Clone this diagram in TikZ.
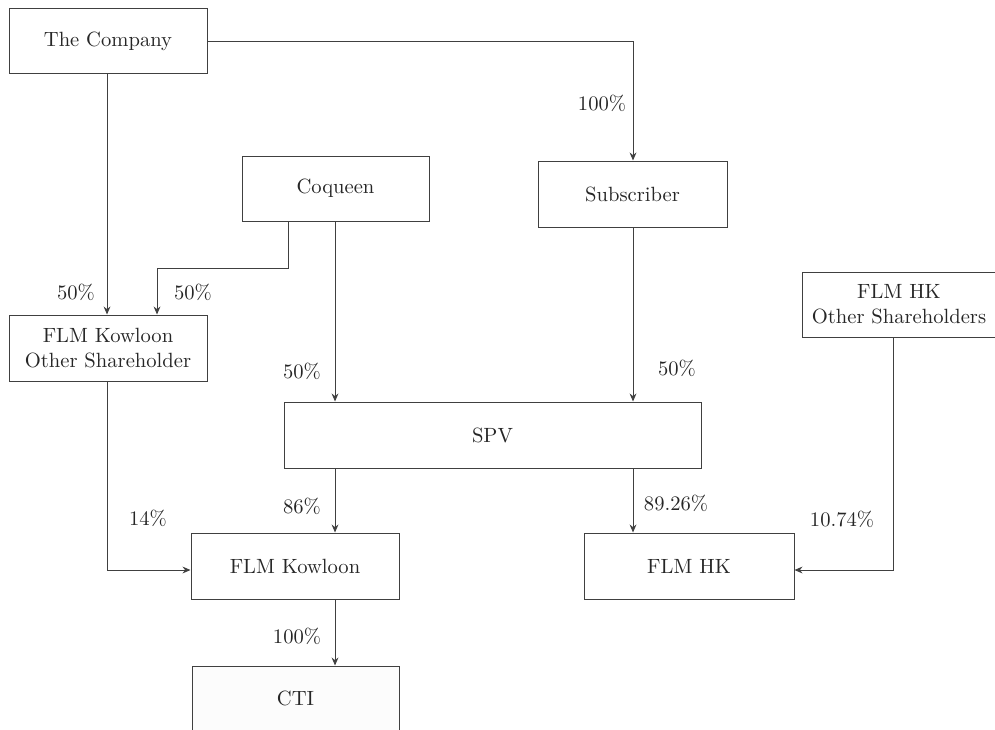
\documentclass[tikz,border=0pt]{standalone}
\usetikzlibrary{arrows.meta}
\begin{document}
\begin{tikzpicture}[x=0.5pt,y=-0.5pt,
  box/.style={draw=black!75, line width=0.5pt, rectangle, inner sep=0pt, align=center, text=black!85, font=\fontsize{10.3}{12.5}\selectfont},
  arr/.style={draw=black!75, line width=0.5pt, -{Stealth[length=4pt,width=3.4pt]}},
  lbl/.style={text=black!85, font=\fontsize{10.3}{12.5}\selectfont, inner sep=0pt}]
\useasboundingbox (0,0) rectangle (995,729);
\node[box, minimum width=99pt, minimum height=32.5pt] (company) at (108,41) {The Company};
\node[box, minimum width=93.5pt, minimum height=32.5pt] (coqueen) at (335.5,188.5) {Coqueen};
\node[box, minimum width=94.5pt, minimum height=33pt] (subscriber) at (632.5,194) {Subscriber};
\node[box, minimum width=99pt, minimum height=33pt] (kos) at (108,348) {FLM Kowloon\\Other Shareholder};
\node[box, minimum width=97pt, minimum height=32.5pt] (hkos) at (899,304.5) {FLM HK\\Other Shareholders};
\node[box, minimum width=208.5pt, minimum height=33pt] (spv) at (492.5,435) {SPV};
\node[box, minimum width=104pt, minimum height=33pt] (kowloon) at (295,566) {FLM Kowloon};
\node[box, minimum width=105pt, minimum height=33pt] (hk) at (689,566) {FLM HK};
\node[box, fill=black!1, minimum width=103.5pt, minimum height=32.5pt] (cti) at (295.5,698.5) {CTI};
\coordinate (xl) at (335,0);
\coordinate (xr) at (633,0);
\coordinate (c1) at (288,268);
\coordinate (c2) at (157,268);
\coordinate (ky) at (0,570);
\coordinate (hx) at (893,0);
\coordinate (kx) at (107,0);
\draw[arr] (company.east) -| (subscriber.north -| xr);
\draw[arr] (company.south -| kx) -- (kos.north -| kx);
\draw[arr] (coqueen.south -| c1) -- (c1) -- (c2) -- (c2 |- kos.north);
\draw[arr] (coqueen.south -| xl) -- (spv.north -| xl);
\draw[arr] (subscriber.south -| xr) -- (spv.north -| xr);
\draw[arr] (spv.south -| xl) -- (kowloon.north -| xl);
\draw[arr] (spv.south -| xr) -- (hk.north -| xr);
\draw[arr] (kowloon.south -| xl) -- (cti.north -| xl);
\draw[arr] (kos.south -| kx) |- (kowloon.west |- ky);
\draw[arr] (hkos.south -| hx) |- (hk.east |- ky);
\node[lbl] (l1) at (602,103) {100\%};
\node[lbl] (l2) at (76,292) {50\%};
\node[lbl] (l3) at (193,292) {50\%};
\node[lbl] (l4) at (302,371) {50\%};
\node[lbl] (l5) at (677,368) {50\%};
\node[lbl] (l6) at (148,518) {14\%};
\node[lbl] (l7) at (302,506) {86\%};
\node[lbl] (l8) at (676,503) {89.26\%};
\node[lbl] (l9) at (842,519) {10.74\%};
\node[lbl] (l10) at (297,636) {100\%};
\end{tikzpicture}
\end{document}
